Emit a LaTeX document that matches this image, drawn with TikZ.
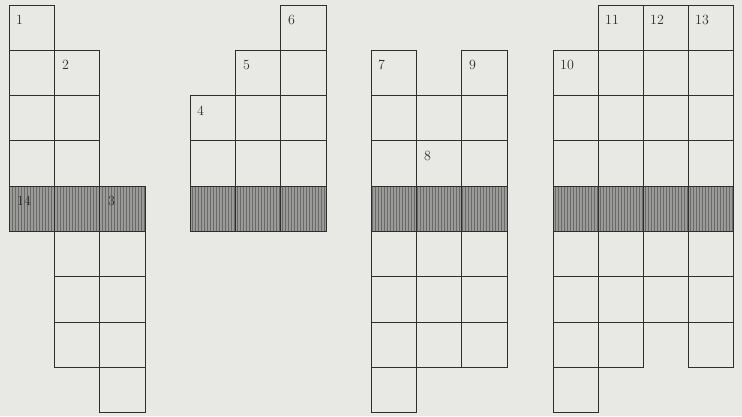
\documentclass[tikz,border=0pt]{standalone}
\usetikzlibrary{patterns}
\definecolor{paper}{HTML}{E8E8E5}
\definecolor{ink}{HTML}{2E2E2E}
\definecolor{hatchbg}{HTML}{9A9A98}
\definecolor{hatchln}{HTML}{6A6A68}
\newcommand\cellcolumn[4]{%
  \foreach \r in {#2,...,#3} {\draw[cellline] (#1,{5+45.33*\r}) rectangle ++(#4,45.33);}}
\newcommand\shadedrow[2]{%
  \fill[hatchbg] (#1,186.3) rectangle (#2,231.6);
  \fill[pattern=vertical lines, pattern color=hatchln] (#1,186.3) rectangle (#2,231.6);}
\begin{document}
\begin{tikzpicture}[x=1pt,y=-1pt,
  cellline/.style={draw=ink, line width=1pt},
  lbl/.style={anchor=north west, inner sep=0pt, text=ink, font=\fontsize{14}{14}\selectfont}]
\fill[paper] (0,0) rectangle (742,416);
\useasboundingbox (0,0) rectangle (742,416);
% shaded rows
\shadedrow{9}{145.2}
\shadedrow{190}{326.2}
\shadedrow{371}{507.2}
\shadedrow{553}{733}
% grid 1
\cellcolumn{9}{0}{4}{45.4}
\cellcolumn{54.4}{1}{7}{45.4}
\cellcolumn{99.8}{4}{8}{45.4}
% grid 2
\cellcolumn{190}{2}{4}{45.4}
\cellcolumn{235.4}{1}{4}{45.4}
\cellcolumn{280.8}{0}{4}{45.4}
% grid 3
\cellcolumn{371}{1}{8}{45.4}
\cellcolumn{416.4}{2}{7}{45.4}
\cellcolumn{461.8}{1}{7}{45.4}
% grid 4
\cellcolumn{553}{1}{8}{45}
\cellcolumn{598}{0}{7}{45}
\cellcolumn{643}{0}{6}{45}
\cellcolumn{688}{0}{7}{45}
% labels
\node[lbl] (l1) at (16,15) {1};
\node[lbl] (l2) at (62,60) {2};
\node[lbl] (l14) at (17,196) {14};
\node[lbl] (l3) at (108,196) {3};
\node[lbl] (l4) at (197,106) {4};
\node[lbl] (l5) at (243,60) {5};
\node[lbl] (l6) at (288,15) {6};
\node[lbl] (l7) at (378,60) {7};
\node[lbl] (l8) at (424,151) {8};
\node[lbl] (l9) at (469,60) {9};
\node[lbl] (l10) at (560,60) {10};
\node[lbl] (l11) at (605,15) {11};
\node[lbl] (l12) at (650,15) {12};
\node[lbl] (l13) at (695,15) {13};
\end{tikzpicture}
\end{document}
